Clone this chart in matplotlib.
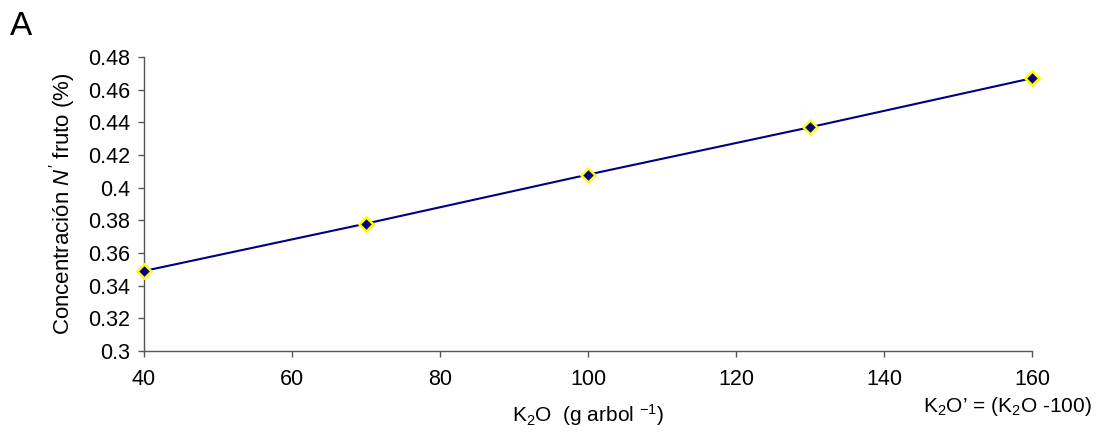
import matplotlib
matplotlib.use("Agg")
import matplotlib.pyplot as plt

plt.rcParams["font.family"] = ["Liberation Sans", "DejaVu Sans"]
plt.rcParams["mathtext.fontset"] = "custom"
plt.rcParams["mathtext.rm"] = "Liberation Sans"
plt.rcParams["mathtext.it"] = "Liberation Sans:italic"

# ── Data ─────────────────────────────────────────────────────────
k2o = [40, 70, 100, 130, 160]
conc_n = [0.349, 0.378, 0.408, 0.437, 0.467]
yticks = [0.3, 0.32, 0.34, 0.36, 0.38, 0.4, 0.42, 0.44, 0.46, 0.48]
ytick_labels = ["0.3", "0.32", "0.34", "0.36", "0.38", "0.4", "0.42", "0.44", "0.46", "0.48"]
xticks = [40, 60, 80, 100, 120, 140, 160]

fig = plt.figure(figsize=(10.96, 4.38), dpi=100)
ax = fig.add_axes([0.1314, 0.1986, 0.8102, 0.6713])

ax.plot(k2o, conc_n, color="#000080", lw=1.5, marker="D", ms=7.5,
        mfc="#000080", mec="#FFFF00", mew=1.8, clip_on=False, zorder=3)

ax.set_xlim(40, 160)
ax.set_ylim(0.3, 0.48)
ax.set_xticks(xticks)
ax.set_yticks(yticks)
ax.set_yticklabels(ytick_labels)
ax.tick_params(direction="out", length=4, width=1, color="#555555", labelsize=15.5)
ax.tick_params(axis="y", pad=6)
ax.tick_params(axis="x", pad=9)

for s in ["top", "right"]:
    ax.spines[s].set_visible(False)
for s in ["left", "bottom"]:
    ax.spines[s].set_color("#555555")
    ax.spines[s].set_linewidth(1)

ax.set_ylabel("Concentración $\\mathit{N'}$ fruto (%)", fontsize=16, labelpad=7)
ax.set_xlabel("K$_2$O  (g arbol $^{-1}$)", fontsize=15, labelpad=9)

fig.text(0.009, 0.92, "A", fontsize=24)
fig.text(0.996, 0.06, "K$_2$O\u2019 = (K$_2$O -100)", fontsize=15, ha="right")

fig.savefig("out.png", dpi=100, facecolor="white")
plt.close()
